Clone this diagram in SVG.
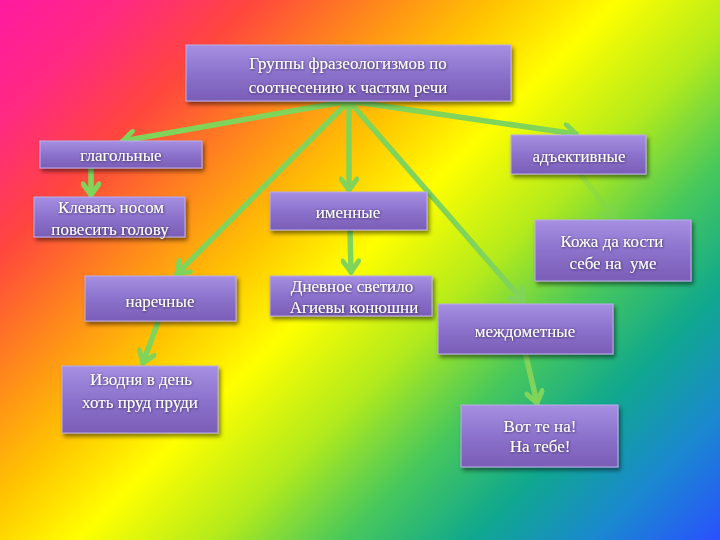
<svg xmlns="http://www.w3.org/2000/svg" width="720" height="540" viewBox="0 0 720 540">
<defs>
<linearGradient id="bg" gradientUnits="userSpaceOnUse" x1="0" y1="0" x2="630" y2="630">
<stop offset="0" stop-color="#ff1aa0"/>
<stop offset="0.1" stop-color="#ff2a80"/>
<stop offset="0.2" stop-color="#ff463e"/>
<stop offset="0.3" stop-color="#ff861c"/>
<stop offset="0.4" stop-color="#ffc600"/>
<stop offset="0.49" stop-color="#ffff00"/>
<stop offset="0.6" stop-color="#b2ea1c"/>
<stop offset="0.7" stop-color="#48c85c"/>
<stop offset="0.8" stop-color="#10a88e"/>
<stop offset="0.9" stop-color="#1a88d0"/>
<stop offset="1" stop-color="#2a50ff"/>
</linearGradient>
<linearGradient id="box" x1="0" y1="0" x2="0" y2="1">
<stop offset="0" stop-color="#a690e2"/>
<stop offset="0.5" stop-color="#8c72cc"/>
<stop offset="1" stop-color="#7a5db6"/>
</linearGradient>
<filter id="sh" x="-10%" y="-20%" width="125%" height="150%">
<feDropShadow dx="2" dy="3" stdDeviation="2" flood-color="#000" flood-opacity="0.5"/>
</filter>
<filter id="tsh" x="-10%" y="-30%" width="120%" height="160%">
<feDropShadow dx="0.5" dy="0.5" stdDeviation="0.8" flood-color="#2a1a40" flood-opacity="0.9"/>
</filter>
<marker id="ah" markerUnits="userSpaceOnUse" viewBox="0 0 20 20" markerWidth="20" markerHeight="20" refX="16" refY="10" orient="auto">
<path d="M5,2 L16,10 L5,18" fill="none" stroke="#80d45a" stroke-width="5" stroke-linecap="round" stroke-linejoin="round"/>
</marker>
</defs>
<style>
.b rect{fill:url(#box);stroke:#bcaeea;stroke-width:1;filter:url(#sh)}
.b text{font-family:"Liberation Serif","Times New Roman",serif;font-size:17px;fill:#ffffff;text-anchor:middle;filter:url(#tsh)}
.c path{fill:none;stroke:#80d45a;stroke-width:5.5;stroke-linecap:round;marker-end:url(#ah)}
</style>
<rect x="0" y="0" width="720" height="540" fill="url(#bg)"/>
<g id="connectors" class="c">
<path d="M349,101 L123,141"/>
<path d="M349,101 L177,274"/>
<path d="M349,101 L349,190"/>
<path d="M349,101 L523,301"/>
<path d="M349,101 L576,134"/>
<path d="M91,169 L91,195"/>
<path d="M350,231 L351,272"/>
<path d="M158,322 L143,363"/>
<g opacity="0.35"><path d="M581,175 L615,218"/></g>
<path d="M526,356 L537,403"/>
</g>
<g id="n-top" class="b"><rect x="186" y="45" width="325" height="56"/><text x="348" y="69">Группы фразеологизмов по</text><text x="348" y="93">соотнесению к частям речи</text></g>
<g id="n-glag" class="b"><rect x="40" y="141" width="162" height="27"/><text x="121" y="161">глагольные</text></g>
<g id="n-klev" class="b"><rect x="34" y="197" width="151" height="40"/><text x="111" y="213">Клевать носом</text><text x="110" y="235">повесить голову</text></g>
<g id="n-imen" class="b"><rect x="270" y="192" width="157" height="38"/><text x="348" y="218">именные</text></g>
<g id="n-adj" class="b"><rect x="511" y="135" width="135" height="39"/><text x="579" y="162">адъективные</text></g>
<g id="n-kozha" class="b"><rect x="535" y="220" width="156" height="61"/><text x="612" y="247">Кожа да кости</text><text x="613" y="269" xml:space="preserve">себе на  уме</text></g>
<g id="n-narech" class="b"><rect x="85" y="276" width="151" height="45"/><text x="160" y="307">наречные</text></g>
<g id="n-dnev" class="b"><rect x="270" y="276" width="162" height="40"/><text x="352" y="292">Дневное светило</text><text x="354" y="313">Агиевы конюшни</text></g>
<g id="n-mezhd" class="b"><rect x="438" y="304" width="175" height="50"/><text x="525" y="337">междометные</text></g>
<g id="n-izod" class="b"><rect x="62" y="366" width="156" height="67"/><text x="141" y="385">Изодня в день</text><text x="140" y="408">хоть пруд пруди</text></g>
<g id="n-vot" class="b"><rect x="461" y="405" width="157" height="62"/><text x="540" y="432">Вот те на!</text><text x="540" y="452">На тебе!</text></g>
</svg>
